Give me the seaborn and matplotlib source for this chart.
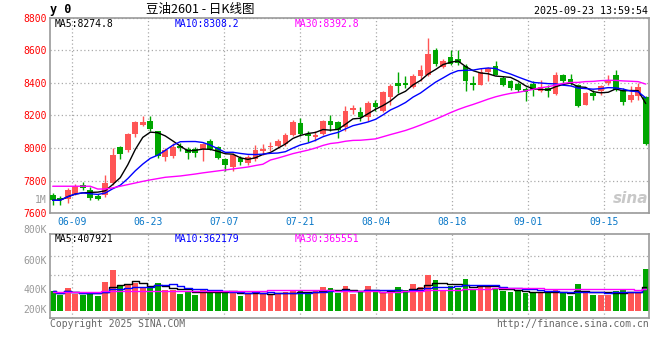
import numpy as np
import pandas as pd
import matplotlib
matplotlib.use("Agg")
import matplotlib.pyplot as plt
import seaborn as sns

# daily bars of y2601, 06-04 .. 09-23 (80 sessions)
opens = [7711, 7694, 7688, 7719, 7776, 7745, 7708, 7715, 7786, 8005,
         7991, 8089, 8140, 8169, 8103, 7944, 7954, 8015, 7997, 7997,
         7997, 8046, 8009, 7936, 7886, 7940, 7907, 7936, 7985, 8005,
         8011, 8026, 8079, 8154, 8089, 8066, 8089, 8169, 8160, 8130,
         8232, 8222, 8189, 8277, 8226, 8314, 8400, 8400, 8375, 8441,
         8451, 8600, 8496, 8559, 8549, 8502, 8400, 8390, 8467, 8506,
         8431, 8410, 8396, 8365, 8394, 8349, 8369, 8334, 8451, 8426,
         8390, 8267, 8338, 8353, 8400, 8451, 8359, 8297, 8318, 8312]
highs = [7725, 7704, 7755, 7782, 7790, 7760, 7719, 7837, 8001, 8011,
         8093, 8169, 8199, 8195, 8107, 8001, 8032, 8032, 8005, 8005,
         8032, 8058, 8015, 7940, 7970, 7950, 7956, 8021, 8026, 8038,
         8058, 8091, 8175, 8185, 8107, 8103, 8175, 8205, 8169, 8261,
         8263, 8255, 8291, 8293, 8353, 8394, 8467, 8441, 8455, 8512,
         8676, 8614, 8549, 8604, 8600, 8516, 8445, 8492, 8498, 8537,
         8441, 8416, 8404, 8373, 8410, 8420, 8390, 8465, 8455, 8455,
         8394, 8345, 8359, 8390, 8447, 8482, 8369, 8383, 8400, 8318]
lows = [7653, 7649, 7664, 7711, 7741, 7680, 7680, 7698, 7776, 7931,
        7977, 8066, 8134, 8103, 7940, 7919, 7940, 7981, 7936, 7944,
        7923, 7991, 7936, 7858, 7862, 7899, 7895, 7919, 7956, 7981,
        8001, 8011, 8073, 8073, 8038, 8042, 8083, 8107, 8062, 8103,
        8210, 8169, 8165, 8230, 8222, 8267, 8338, 8369, 8369, 8410,
        8441, 8502, 8492, 8508, 8512, 8353, 8359, 8386, 8410, 8447,
        8383, 8359, 8345, 8291, 8318, 8345, 8312, 8328, 8390, 8390,
        8250, 8263, 8298, 8324, 8390, 8353, 8267, 8281, 8298, 8017]
closes = [7680, 7680, 7745, 7766, 7756, 7694, 7688, 7786, 7960, 7966,
          8087, 8158, 8158, 8120, 7950, 7987, 8005, 8001, 7970, 7968,
          8026, 7997, 7940, 7895, 7956, 7915, 7948, 7989, 7997, 8015,
          8046, 8079, 8160, 8089, 8073, 8079, 8169, 8140, 8113, 8230,
          8244, 8189, 8277, 8250, 8345, 8384, 8379, 8385, 8445, 8482,
          8580, 8518, 8537, 8516, 8522, 8410, 8390, 8467, 8492, 8451,
          8390, 8369, 8355, 8345, 8359, 8375, 8353, 8451, 8414, 8404,
          8257, 8338, 8318, 8379, 8420, 8359, 8281, 8328, 8373, 8026]
# volume in thousand lots
volumes = [334, 267, 379, 279, 267, 296, 250, 489, 685, 423,
           429, 463, 379, 396, 468, 359, 359, 284, 326, 267,
           367, 331, 334, 301, 312, 250, 301, 334, 289, 272,
           306, 309, 351, 329, 296, 329, 401, 389, 301, 418,
           284, 314, 418, 314, 296, 317, 401, 351, 451, 401,
           601, 518, 329, 423, 384, 534, 364, 412, 396, 364,
           342, 322, 337, 296, 296, 322, 296, 351, 296, 250,
           451, 322, 267, 267, 267, 339, 351, 322, 322, 701]
ma30_head = [7766, 7766, 7766, 7766, 7766, 7766, 7749, 7749, 7756, 7766,
             7776, 7786, 7796, 7805, 7813, 7821, 7825, 7829, 7835, 7841,
             7848, 7854, 7860, 7866, 7872, 7878, 7884, 7893, 7901]
vol_ma30_head = [322, 322, 322, 322, 322, 322, 322, 334, 340, 340,
                 340, 340, 340, 340, 340, 340, 340, 340, 340, 340,
                 340, 340, 340, 340, 340, 340, 340, 340, 340]
date_labels = ['06-09', '06-23', '07-07', '07-21', '08-04', '08-18', '09-01', '09-15']
price_ticks = [7600, 7800, 8000, 8200, 8400, 8600, 8800]
# figures printed in the chart header
ma_price_text = ['MA5:8274.8', 'MA10:8308.2', 'MA30:8392.8']
ma_vol_text = ['MA5:407921', 'MA10:362179', 'MA30:365551']

RED = '#ff5555'
GREEN = '#00a600'
GRID = '#aaaaaa'
EDGE = '#999999'
MONO = 'DejaVu Sans Mono'

df = pd.DataFrame({'o': opens, 'h': highs, 'l': lows, 'c': closes, 'v': volumes})
df['i'] = np.arange(len(df))
df['ma5'] = df.c.rolling(5, min_periods=1).mean()
df['ma10'] = df.c.rolling(10, min_periods=1).mean()
df['ma30'] = df.c.rolling(30).mean()
df.loc[:28, 'ma30'] = ma30_head
df['vma5'] = df.v.rolling(5, min_periods=1).mean()
df['vma10'] = df.v.rolling(10, min_periods=1).mean()
df['vma30'] = df.v.rolling(30).mean()
df.loc[:28, 'vma30'] = vol_ma30_head
df['col'] = np.where(df.c >= df.o, RED, GREEN)

sns.set_style("white")
plt.rcParams['font.family'] = [MONO, 'Noto Sans CJK SC']

fig = plt.figure(figsize=(6.6, 3.6), dpi=100)
W, H = 660, 360


def box(x0, y0, x1, y1):
    return [x0 / W, 1 - y1 / H, (x1 - x0) / W, (y1 - y0) / H]


def ftext(x, y, s, **kw):
    fig.text(x / W, 1 - y / H, s, va='center', **kw)


ax = fig.add_axes(box(50, 17.7, 649, 213.3))
axv = fig.add_axes(box(50, 234.3, 649, 318.3))

# the date ticks sit slightly off the bar grid in the original
tick_pos = 2.57 + 10.13 * np.arange(len(date_labels))

# candles
ax.vlines(df.i, df.l, df.h, colors=df.col, lw=1, zorder=2)
ax.bar(df.i, np.maximum((df.c - df.o).abs(), 2), bottom=np.minimum(df.o, df.c),
       width=0.76, color=df.col, lw=0, zorder=3)
for col, c in [('ma5', 'black'), ('ma10', 'blue'), ('ma30', 'magenta')]:
    sns.lineplot(x=df.i, y=df[col], ax=ax, color=c, lw=1, estimator=None, zorder=4)

ax.set_xlim(-0.36, 79.44)
ax.set_ylim(7600, 8800)
ax.set_yticks(price_ticks)
ax.set_yticklabels([str(v) for v in price_ticks], color='red', fontsize=7, family=MONO)
ax.set_xticks(tick_pos)
ax.set_xticklabels(date_labels, color='#0a78c8', fontsize=7, family=MONO)
ax.tick_params(axis='both', length=0)
ax.tick_params(axis='x', pad=3)
ax.tick_params(axis='y', pad=2.5)
ax.grid(True, color=GRID, lw=0.9, linestyle=(0, (1, 2)))
ax.set_axisbelow(True)
ax.set_xlabel('')
ax.set_ylabel('')

# volume
axv.bar(df.i, df.v, width=0.76, color=df.col, lw=0, zorder=2)
for col, c in [('vma5', 'black'), ('vma10', 'blue'), ('vma30', 'magenta')]:
    sns.lineplot(x=df.i, y=df[col], ax=axv, color=c, lw=1, estimator=None,
                 drawstyle='steps-mid', zorder=4)
axv.set_xlim(-0.36, 79.44)
axv.set_ylim(-122, 1281)
axv.set_xticks(tick_pos)
axv.set_yticks([600, 920])
axv.set_xticklabels([])
axv.set_yticklabels([])
axv.tick_params(axis='both', length=0)
axv.grid(True, color=GRID, lw=0.9, linestyle=(0, (1, 2)))
axv.set_axisbelow(True)
axv.set_xlabel('')
axv.set_ylabel('')

for a in (ax, axv):
    for s in a.spines.values():
        s.set_color(EDGE)
        s.set_linewidth(1.2)

# header
ftext(50, 10, 'y 0', fontsize=8.5, weight='bold', family=MONO, color='black')
ftext(200, 10, '豆油2601 - 日K线图', fontsize=9, ha='center',
      family=['Noto Sans CJK SC', 'DejaVu Sans'], color='black')
ftext(648, 11.5, '2025-09-23 13:59:54', fontsize=7.2, ha='right', family=MONO, color='black')
for s, x, c in zip(ma_price_text, [55, 175, 295], ['black', 'blue', 'magenta']):
    ftext(x, 23.7, s, fontsize=7, family=MONO, color=c)
ftext(46.5, 200, '1M', fontsize=7, ha='right', family=MONO, color='#999999')
ftext(648, 198, 'sina', fontsize=11, ha='right', style='italic', weight='bold',
      family='DejaVu Sans', color='#c8c8c8')

# volume panel texts
for s, x, c in zip(ma_vol_text, [55, 175, 295], ['black', 'blue', 'magenta']):
    ftext(x, 239, s, fontsize=7, family=MONO, color=c)
for lab, y in [('800K', 230.3), ('600K', 260.5), ('400K', 290), ('200K', 310)]:
    ftext(46.5, y, lab, fontsize=7, ha='right', family=MONO, color='#999999')

ftext(50, 323.7, 'Copyright 2025 SINA.COM', fontsize=7, family=MONO, color='#666666')
ftext(649, 324, 'http://finance.sina.com.cn', fontsize=7, ha='right', family=MONO, color='#666666')

fig.savefig('out.png', dpi=100)
